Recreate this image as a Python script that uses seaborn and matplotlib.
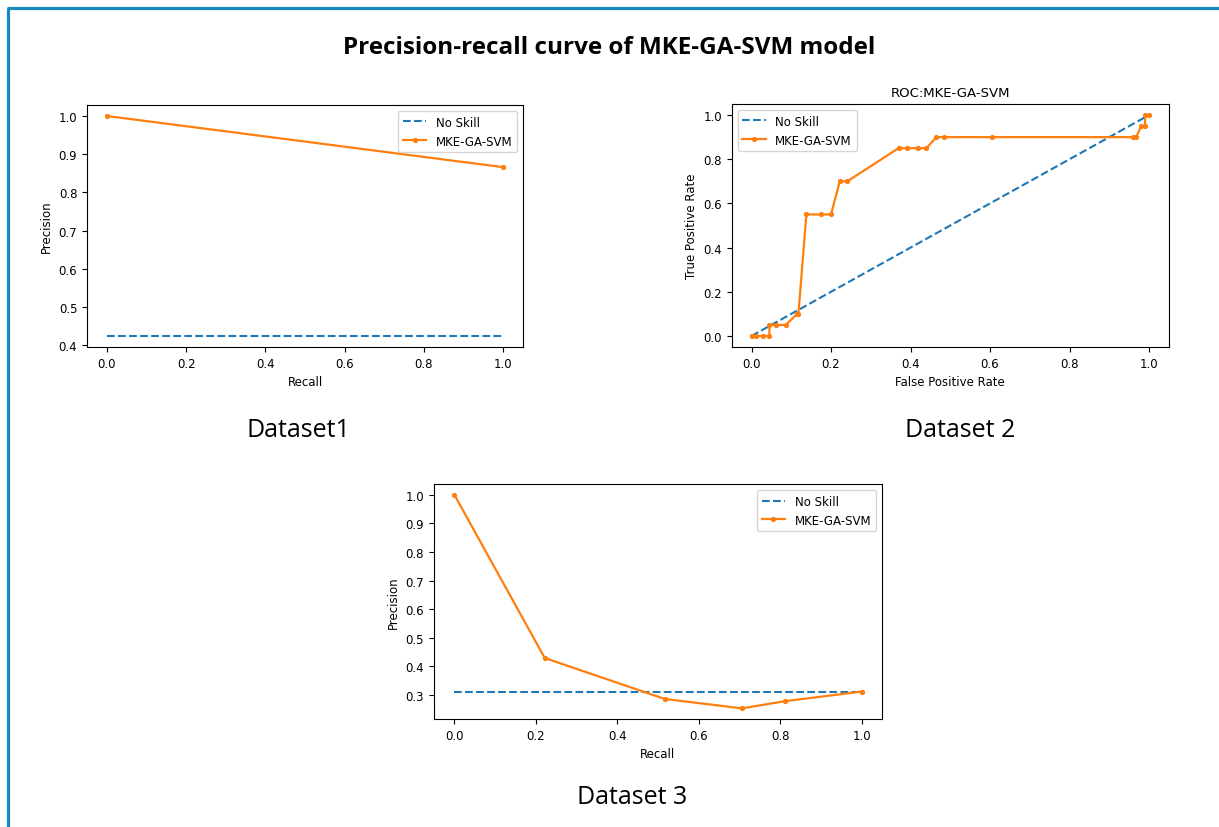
import matplotlib
matplotlib.use("Agg")
import matplotlib.pyplot as plt
from matplotlib.lines import Line2D
import seaborn as sns
import numpy as np

# ---------------- data ----------------
ds1_recall = [1.0, 0.0]
ds1_precision = [0.866, 1.0]
ds1_no_skill = 0.424

roc_fpr = [0.0, 0.011, 0.03, 0.045, 0.045, 0.062, 0.086, 0.115, 0.118, 0.138,
           0.175, 0.2, 0.222, 0.241, 0.37, 0.39, 0.42, 0.44, 0.465, 0.483,
           0.605, 0.96, 0.968, 0.98, 0.99, 0.99, 1.0]
roc_tpr = [0.0, 0.0, 0.0, 0.0, 0.05, 0.05, 0.05, 0.1, 0.1, 0.55,
           0.55, 0.55, 0.7, 0.7, 0.85, 0.85, 0.85, 0.85, 0.9, 0.9,
           0.9, 0.9, 0.9, 0.95, 0.95, 1.0, 1.0]
roc_no_skill_x = [0.0, 1.0]
roc_no_skill_y = [0.0, 1.0]

ds3_recall = [1.0, 0.812, 0.706, 0.517, 0.222, 0.0]
ds3_precision = [0.3116, 0.278, 0.253, 0.2857, 0.429, 1.0]
ds3_no_skill = 0.3116

main_title = "Precision-recall curve of MKE-GA-SVM model"
roc_title = "ROC:MKE-GA-SVM"
captions = ["Dataset1", "Dataset 2", "Dataset 3"]

BLUE = "#1f77b4"
ORANGE = "#ff7f0e"

plt.rcParams["font.family"] = ["DejaVu Sans"]
fig = plt.figure(figsize=(12.19, 8.28), dpi=100)
fig.patch.set_facecolor("white")

ax1 = fig.add_axes([0.0714, 0.5797, 0.3577, 0.2923])
ax2 = fig.add_axes([0.6002, 0.5797, 0.3587, 0.2935])
ax3 = fig.add_axes([0.356, 0.1304, 0.3675, 0.2838])

tick_fs = 8.5
lab_fs = 8.5
leg_fs = 8.5


def pr_panel(ax, recall, precision, no_skill, legend_loc):
    sns.lineplot(x=[0.0, 1.0], y=[no_skill, no_skill], ax=ax, color=BLUE,
                 linestyle="--", linewidth=1.5, label="No Skill", sort=False,
                 estimator=None)
    sns.lineplot(x=recall, y=precision, ax=ax, color=ORANGE, marker=".",
                 markersize=6, markeredgecolor=ORANGE, linewidth=1.6,
                 label="MKE-GA-SVM", sort=False, estimator=None)
    ax.set_xlabel("Recall", fontsize=lab_fs)
    ax.set_ylabel("Precision", fontsize=lab_fs)
    ax.tick_params(labelsize=tick_fs)
    ax.legend(loc=legend_loc, fontsize=leg_fs)


pr_panel(ax1, ds1_recall, ds1_precision, ds1_no_skill, "upper right")
pr_panel(ax3, ds3_recall, ds3_precision, ds3_no_skill, "upper right")

sns.lineplot(x=roc_no_skill_x, y=roc_no_skill_y, ax=ax2, color=BLUE,
             linestyle="--", linewidth=1.5, label="No Skill", sort=False,
             estimator=None)
sns.lineplot(x=roc_fpr, y=roc_tpr, ax=ax2, color=ORANGE, marker=".",
             markersize=6, markeredgecolor=ORANGE, linewidth=1.6,
             label="MKE-GA-SVM", sort=False, estimator=None)
ax2.set_xlabel("False Positive Rate", fontsize=lab_fs)
ax2.set_ylabel("True Positive Rate", fontsize=lab_fs)
ax2.set_title(roc_title, fontsize=9.5)
ax2.tick_params(labelsize=tick_fs)
ax2.legend(loc="upper left", fontsize=leg_fs)

# titles / captions
fig.text(0.5, 1 - 48 / 828, main_title, ha="center", va="center",
         fontsize=17.5, fontweight="bold", family=["Open Sans", "DejaVu Sans"])
fig.text(298 / 1219, 1 - 431 / 828, captions[0], ha="center", va="center",
         fontsize=18, family=["Open Sans", "DejaVu Sans"])
fig.text(960 / 1219, 1 - 431 / 828, captions[1], ha="center", va="center",
         fontsize=18, family=["Open Sans", "DejaVu Sans"])
fig.text(632 / 1219, 1 - 798 / 828, captions[2], ha="center", va="center",
         fontsize=18, family=["Open Sans", "DejaVu Sans"])

# blue frame (top and left)
frame_c = "#1a88c0"
fig.add_artist(Line2D([7 / 1219, 1.0], [1 - 9 / 828, 1 - 9 / 828],
                      transform=fig.transFigure, color=frame_c, linewidth=2.3,
                      solid_capstyle="butt"))
fig.add_artist(Line2D([7.5 / 1219, 7.5 / 1219], [0.0, 1 - 9 / 828],
                      transform=fig.transFigure, color=frame_c, linewidth=2.3,
                      solid_capstyle="butt"))

fig.savefig("out.png", dpi=100, facecolor="white")
